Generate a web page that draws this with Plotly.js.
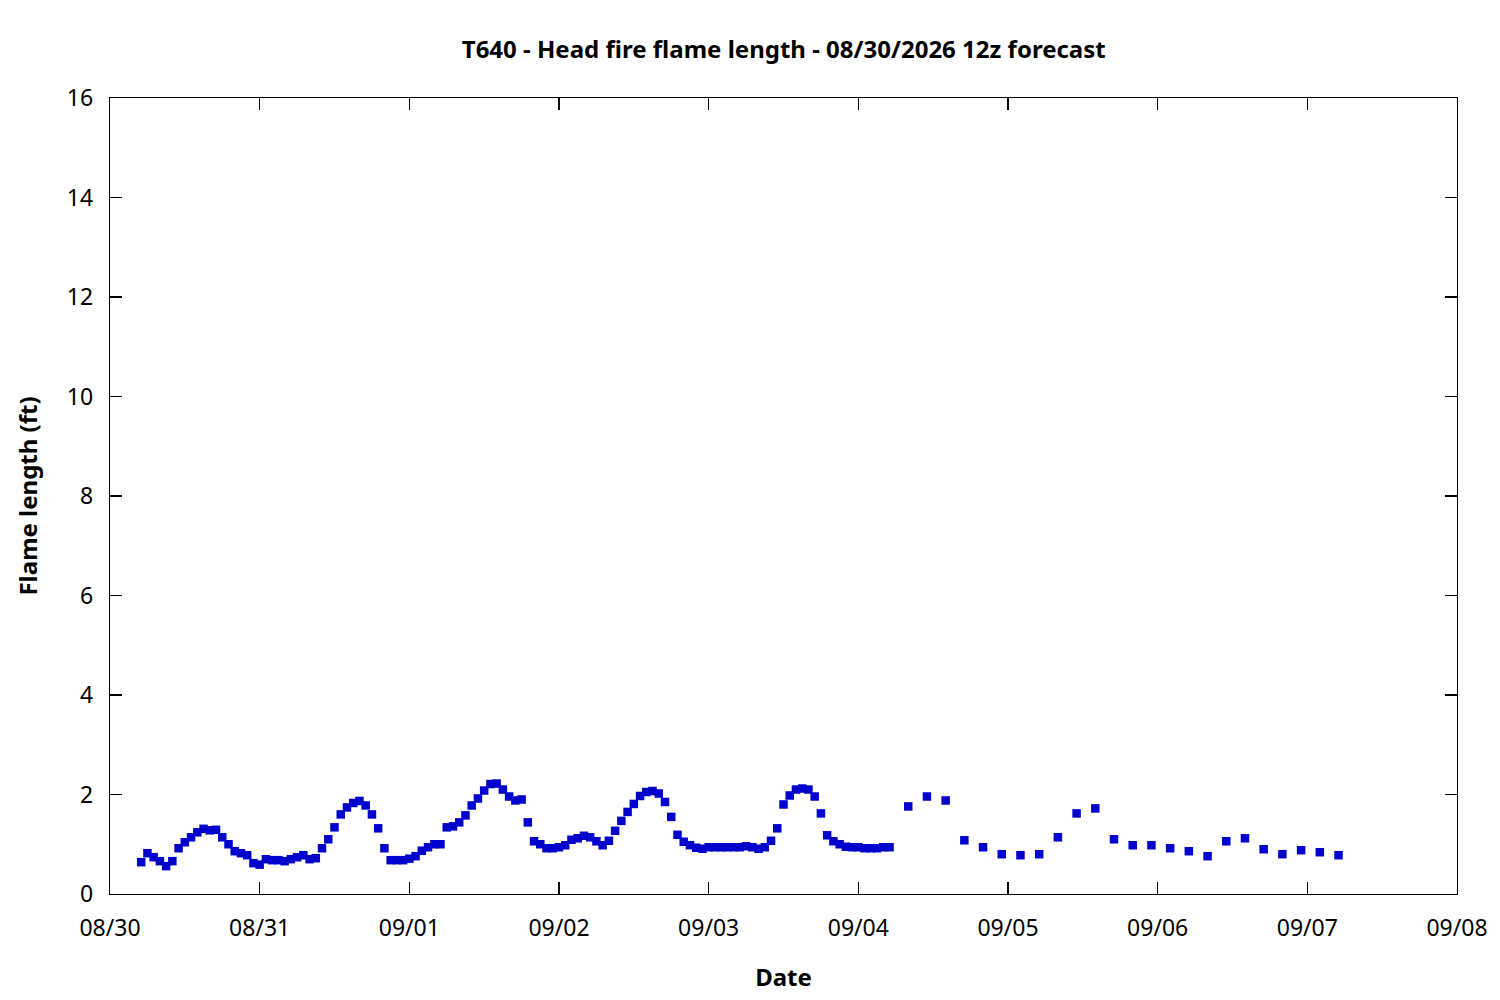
<!DOCTYPE html>
<html>
<head>
<meta charset="utf-8">
<script src="https://cdn.plot.ly/plotly-3.0.1.min.js"></script>
<style>
  html, body { margin: 0; padding: 0; background: #fff; }
  #graph { width: 1500px; height: 1000px; }
</style>
</head>
<body>
<div id="graph"></div>
<script>
// hourly forecast, 08/30 05:00 .. 09/04 05:00
var hourlyStart = '2026-08-30T05:00:00';
var hourlyFlame = [
  0.64, 0.82, 0.74, 0.66, 0.56, 0.66, 0.92, 1.04, 1.14, 1.24,
  1.31, 1.28, 1.29, 1.14, 1.00, 0.86, 0.82, 0.78, 0.62, 0.59,
  0.70, 0.68, 0.68, 0.66, 0.70, 0.74, 0.78, 0.70, 0.72, 0.92,
  1.10, 1.34, 1.60, 1.74, 1.83, 1.87, 1.78, 1.60, 1.32, 0.92,
  0.68, 0.68, 0.68, 0.71, 0.76, 0.87, 0.94, 1.00, 1.00, 1.34,
  1.36, 1.44, 1.58, 1.78, 1.92, 2.08, 2.21, 2.22, 2.10, 1.96,
  1.88, 1.90, 1.44, 1.06, 1.00, 0.92, 0.92, 0.94, 0.98, 1.09,
  1.12, 1.17, 1.14, 1.06, 0.98, 1.07, 1.27, 1.47, 1.65, 1.81,
  1.97, 2.05, 2.07, 2.02, 1.85, 1.55, 1.19, 1.05, 0.98, 0.93,
  0.91, 0.94, 0.94, 0.94, 0.94, 0.94, 0.94, 0.96, 0.94, 0.91,
  0.94, 1.07, 1.32, 1.80, 1.98, 2.10, 2.12, 2.10, 1.96, 1.62,
  1.18, 1.06, 1.00, 0.95, 0.94, 0.94, 0.92, 0.92, 0.92, 0.94,
  0.94
];
// 3-hourly forecast, 09/04 08:00 .. 09/07 05:00
var threeHourStart = '2026-09-04T08:00:00';
var threeHourFlame = [
  1.76, 1.96, 1.88, 1.08, 0.94, 0.80, 0.78, 0.80, 1.14, 1.62,
  1.72, 1.10, 0.98, 0.98, 0.92, 0.86, 0.76, 1.06, 1.12, 0.90,
  0.80, 0.88, 0.84, 0.78
];

function timesFrom(start, stepHours, n) {
  var t0 = new Date(start + 'Z').getTime();
  var out = [];
  for (var i = 0; i < n; i++) {
    out.push(new Date(t0 + i * stepHours * 3600000).toISOString().slice(0, 19).replace('T', ' '));
  }
  return out;
}

var x = timesFrom(hourlyStart, 1, hourlyFlame.length).concat(timesFrom(threeHourStart, 3, threeHourFlame.length));
var y = hourlyFlame.concat(threeHourFlame);

var font = 'Noto Sans, Open Sans, DejaVu Sans, sans-serif';
var axisCommon = {
  showline: true,
  linecolor: '#000',
  linewidth: 1.3,
  mirror: 'ticks',
  ticks: 'inside',
  ticklen: 12,
  tickwidth: 1.3,
  tickcolor: '#000',
  showgrid: false,
  zeroline: false,
  tickfont: { family: font, size: 23, color: '#000' }
};

Plotly.newPlot('graph',
  [
    {
      x: x,
      y: y,
      type: 'scatter',
      mode: 'markers',
      marker: { symbol: 'square', size: 8.5, color: 'rgb(0,0,204)' },
      hoverinfo: 'x+y'
    }
  ],
  {
    width: 1500,
    height: 1000,
    paper_bgcolor: '#fff',
    plot_bgcolor: '#fff',
    showlegend: false,
    margin: { l: 110, r: 43, t: 98, b: 106 },
    title: {
      text: '<b>T640 - Head fire flame length - 08/30/2026 12z forecast</b>',
      font: { family: font, size: 24, color: '#000' },
      x: 0.5225, xanchor: 'center', y: 0.95, yanchor: 'middle'
    },
    xaxis: Object.assign({}, axisCommon, {
      type: 'date',
      range: ['2026-08-30 00:00', '2026-09-08 00:00'],
      dtick: 86400000,
      tick0: '2026-08-30',
      tickformat: '%m/%d',
      ticklabelstandoff: 13,
      title: { text: '<b>Date</b>', font: { family: font, size: 24, color: '#000' }, standoff: 27 }
    }),
    yaxis: Object.assign({}, axisCommon, {
      range: [0, 16],
      dtick: 2,
      ticklabelstandoff: 11,
      title: { text: '<b>Flame length (ft)</b>', font: { family: font, size: 24, color: '#000' }, standoff: 22 }
    })
  },
  { displayModeBar: false, staticPlot: true }
);
</script>
</body>
</html>
